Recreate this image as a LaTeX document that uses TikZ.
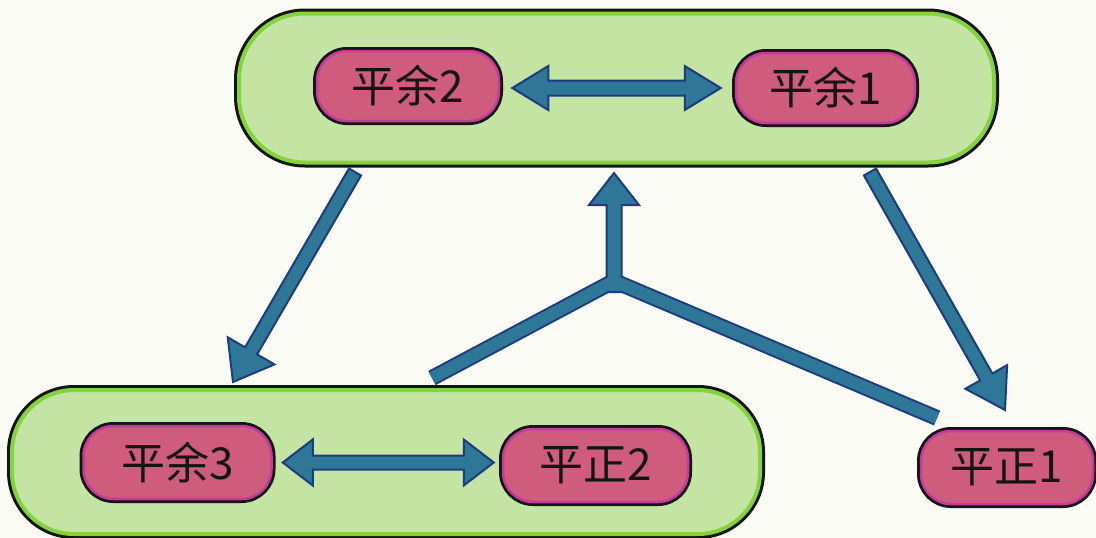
\documentclass[tikz,border=0pt]{standalone}
\usepackage{fontspec}
\newfontfamily\cjk{Noto Sans CJK SC}
\usetikzlibrary{calc}

\definecolor{paper}{HTML}{FBFBF5}
\definecolor{leaf}{HTML}{C3E4A3}
\definecolor{leafedge}{HTML}{84D23C}
\definecolor{rose}{HTML}{CF5C7C}
\definecolor{roseedge}{HTML}{C23C9C}
\definecolor{ink}{HTML}{141414}
\definecolor{teal}{HTML}{2E7796}
\definecolor{navy}{HTML}{1C3C7E}

\tikzset{
  groupbox/.style={rectangle, rounded corners=66pt, fill=leaf,
    preaction={draw=ink, line width=10pt}, draw=leafedge, line width=4pt},
  termbox/.style={rectangle, rounded corners=30pt, fill=rose,
    preaction={draw=ink, line width=8pt}, draw=roseedge, line width=2.5pt,
    font=\cjk\fontsize{44}{44}\selectfont, text=ink, inner sep=0pt},
  arrowbody/.style={fill=teal, draw=navy, line width=2pt, line join=miter},
}

% wide single-headed arrow: from, to, shaft half-width, head half-width, head length
\newcommand\fatarrow[5]{%
  \coordinate (fa-c) at ($(#2)!#5!(#1)$);
  \filldraw[arrowbody]
    ($(#1)!#3!90:(#2)$) -- ($(fa-c)!#3!90:(#2)$) -- ($(fa-c)!#4!90:(#2)$)
    -- (#2) -- ($(fa-c)!#4!-90:(#2)$) -- ($(fa-c)!#3!-90:(#2)$)
    -- ($(#1)!#3!-90:(#2)$) -- cycle;}

% wide double-headed arrow: from, to, shaft half-width, head half-width, head length
\newcommand\fatbiarrow[5]{%
  \coordinate (fb-a) at ($(#1)!#5!(#2)$);
  \coordinate (fb-b) at ($(#2)!#5!(#1)$);
  \filldraw[arrowbody]
    (#1) -- ($(fb-a)!#4!90:(#2)$) -- ($(fb-a)!#3!90:(#2)$)
    -- ($(fb-b)!#3!-90:(#1)$) -- ($(fb-b)!#4!-90:(#1)$) -- (#2)
    -- ($(fb-b)!#4!90:(#1)$) -- ($(fb-b)!#3!90:(#1)$)
    -- ($(fb-a)!#3!-90:(#2)$) -- ($(fb-a)!#4!-90:(#2)$) -- cycle;}

\begin{document}
\begin{tikzpicture}[x=1pt, y=-1pt]
  \fill[paper] (0,0) rectangle (1096,538);
  \useasboundingbox (0,0) rectangle (1096,538);

  % the two groups
  \node[groupbox, minimum width=755pt, minimum height=149pt] (upper) at (616.5,88) {};
  \node[groupbox, minimum width=748pt, minimum height=144pt, rounded corners=62pt] (lower) at (386,462) {};

  % the five terms
  \node[termbox, minimum width=182pt, minimum height=70pt] (py2) at (408,86) {平余2};
  \node[termbox, minimum width=179pt, minimum height=70pt] (py1) at (825.5,88) {平余1};
  \node[termbox, minimum width=188pt, minimum height=73pt] (py3) at (177.5,462.5) {平余3};
  \node[termbox, minimum width=185pt, minimum height=73pt] (pz2) at (595.5,465.5) {平正2};
  \node[termbox, minimum width=172pt, minimum height=73pt] (pz1) at (1007,467.5) {平正1};

  % links inside each group
  \coordinate (uA) at ($(py2.east)+(12,2)$);
  \coordinate (uB) at ($(py1.west)+(-14,0)$);
  \fatbiarrow{uA}{uB}{7.5pt}{22pt}{36pt}
  \coordinate (lA) at ($(py3.east)+(10,0)$);
  \coordinate (lB) at ($(pz2.west)+(-8,-3)$);
  \fatbiarrow{lA}{lB}{7pt}{23pt}{30pt}

  % upper group down to lower group
  \coordinate (dlA) at (355,172);
  \coordinate (dlB) at (233,382);
  \fatarrow{dlA}{dlB}{7pt}{27pt}{36pt}

  % upper group down to the single term
  \coordinate (drA) at (870,172);
  \coordinate (drB) at (1005,410);
  \fatarrow{drA}{drB}{7pt}{24pt}{38pt}

  % joined arrow from lower group and single term back up
  \coordinate (yL) at (432,378);
  \coordinate (yR) at (937,418);
  \coordinate (yJ) at (614,281);
  \coordinate (yS) at (614,292);
  \coordinate (yT) at (614,173);
  \draw[navy, line width=16pt, line join=miter] (yL) -- (yJ) -- (yR);
  \fatarrow{yS}{yT}{7.5pt}{25pt}{32pt}
  \draw[teal, line width=12pt, line join=miter] (yL) -- (yJ) -- (yR);
\end{tikzpicture}
\end{document}
